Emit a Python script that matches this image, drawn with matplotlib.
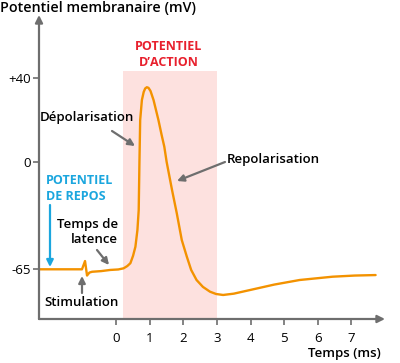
import numpy as np
import matplotlib
matplotlib.use("Agg")
import matplotlib.pyplot as plt

# membrane potential curve (time in ms, potential in mV)
t_ms = [-2.28, -1.02, -0.93, -0.87, -0.80, -0.72, -0.45, -0.18, 0.06, 0.22, 0.33,
        0.42, 0.50, 0.57, 0.63, 0.668, 0.682, 0.69, 0.712, 0.763, 0.816, 0.86, 0.91,
        0.96, 1.02, 1.11, 1.255, 1.35, 1.43, 1.50, 1.66, 1.80, 1.95, 2.10, 2.23, 2.39,
        2.58, 2.79, 2.97, 3.18, 3.50, 3.98, 4.70, 5.46, 6.44, 7.10, 7.72]
v_mv = [-65.2, -65.2, -60.2, -69.0, -67.2, -66.7, -66.3, -65.6, -65.3, -64.6, -63.2,
        -61.5, -57.0, -51.5, -41.3, -29.2, -10.9, 0.0, 20.0, 29.5, 33.3, 35.0, 35.6,
        35.3, 33.8, 29.5, 20.0, 12.9, 7.3, 0.0, -17.0, -31.0, -47.4, -57.5, -65.6, -71.7,
        -75.9, -78.8, -80.2, -80.8, -80.0, -77.8, -74.5, -71.7, -69.7, -69.0, -68.7]

ap_start, ap_end, ap_top = 0.2, 3.0, 43.3   # shaded "potentiel d'action" window

xticks = [0, 1, 2, 3, 4, 5, 6, 7]
yticks = [-65, 0, 40]
ytick_labels = ["-65", "0", "+40"]

ORANGE = "#f39200"
GRAY = "#6e6e6e"
RED = "#e8202d"
CYAN = "#1ba6de"
PINK = "#fde1df"

plt.rcParams["font.family"] = ["Open Sans", "DejaVu Sans"]

fig = plt.figure(figsize=(4.0, 3.63), dpi=100)
ax = fig.add_axes([39 / 400, 44 / 363, 346 / 400, 304 / 363])


# schematic y axis: the part above 0 is drawn more compressed than below
def fwd(y):
    y = np.asarray(y, dtype=float)
    return np.where(y >= 0, y * 2.1, y * 1.646)


def inv(v):
    v = np.asarray(v, dtype=float)
    return np.where(v >= 0, v / 2.1, v / 1.646)


ax.set_yscale("function", functions=(fwd, inv))
ax.set_xlim(-2.3, 8.0)
ax.set_ylim(-95.4, 70)

ax.fill_between([ap_start, ap_end], -95.4, ap_top, color=PINK, lw=0, zorder=0)
ax.plot(t_ms, v_mv, color=ORANGE, lw=1.7, solid_capstyle="round",
        solid_joinstyle="round", zorder=3)

for s in ax.spines.values():
    s.set_visible(False)

ax.set_xticks(xticks)
ax.set_xticklabels([str(x) for x in xticks])
ax.set_yticks(yticks)
ax.set_yticklabels(ytick_labels)
ax.minorticks_off()
ax.tick_params(axis="both", colors=GRAY, length=4, width=1.2, labelsize=9.5,
               labelcolor="black")
ax.tick_params(axis="x", pad=5)
ax.tick_params(axis="y", pad=2)

# axes with arrowheads
arrow_axis = dict(arrowstyle="-|>", color=GRAY, lw=1.6, mutation_scale=11,
                  shrinkA=0, shrinkB=0)
ax.annotate("", xy=(1, 0), xytext=(0, 0), xycoords="axes fraction",
            arrowprops=arrow_axis, annotation_clip=False)
ax.annotate("", xy=(0, 1), xytext=(0, 0), xycoords="axes fraction",
            arrowprops=arrow_axis, annotation_clip=False)


def px(x, y):
    # reference pixel position (from top-left) -> axes fraction
    return ((x - 39) / 346, (319 - y) / 304)


tr = ax.transAxes
txt = dict(fontsize=9.5, fontweight="semibold", color="black", transform=tr)

fig.text(0.0, 1 - 8 / 363, "Potentiel membranaire (mV)", fontsize=10.3,
         fontweight="semibold", va="center", ha="left")
ax.text(*px(344, 353), "Temps (ms)", ha="center", va="center", clip_on=False, **txt)

ax.text(*px(169, 55), "POTENTIEL\nD\u2019ACTION", ha="center", va="center",
        fontsize=9, fontweight="bold", color=RED, transform=tr,
        linespacing=1.3)
ax.text(*px(46, 188), "POTENTIEL\nDE REPOS", ha="left", va="center",
        fontsize=9, fontweight="bold", color=CYAN, transform=tr,
        linespacing=1.3)

ax.text(*px(87, 117), "Dépolarisation", ha="center", va="center", **txt)
ax.text(*px(273, 159), "Repolarisation", ha="center", va="center", **txt)
ax.text(*px(118, 232), "Temps de\nlatence", ha="right", va="center",
        linespacing=1.2, **txt)
ax.text(*px(82, 303), "Stimulation", ha="center", va="center", **txt)

pointer = dict(arrowstyle="-|>", color=GRAY, lw=1.6, mutation_scale=10,
               shrinkA=0, shrinkB=0)
ax.annotate("", xy=px(135, 146), xytext=px(112, 131), xycoords=tr,
            arrowprops=pointer)
ax.annotate("", xy=px(177, 181), xytext=px(225, 162), xycoords=tr,
            arrowprops=pointer)
ax.annotate("", xy=px(109, 265), xytext=px(97, 250), xycoords=tr,
            arrowprops=pointer)
ax.annotate("", xy=px(82, 276), xytext=px(82, 293), xycoords=tr,
            arrowprops=pointer)
ax.annotate("", xy=px(50, 267), xytext=px(50, 205), xycoords=tr,
            arrowprops=dict(arrowstyle="-|>", color=CYAN, lw=1.6,
                            mutation_scale=10, shrinkA=0, shrinkB=0))

fig.savefig("out.png", dpi=100)
